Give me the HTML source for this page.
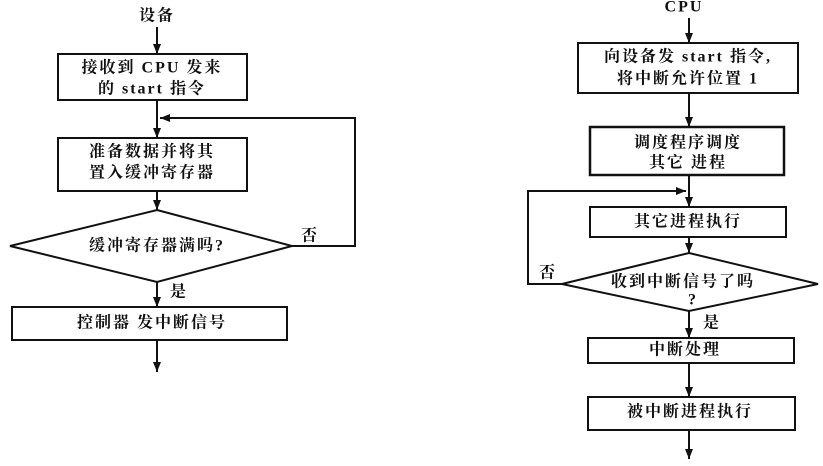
<!DOCTYPE html>
<html><head><meta charset="utf-8"><style>
body{margin:0;background:#fff}
svg text{font-family:"Liberation Serif","Noto Serif CJK SC","Noto Sans CJK SC",serif;font-weight:bold;fill:#111;text-anchor:middle;dominant-baseline:central;letter-spacing:2px}
</style></head><body>
<svg width="823" height="461" viewBox="0 0 823 461" xmlns="http://www.w3.org/2000/svg">
<defs><marker id="a" markerWidth="12" markerHeight="10" refX="10" refY="4" orient="auto" markerUnits="userSpaceOnUse"><path d="M0,0 L10,4 L0,8 Z" fill="#111"/></marker></defs>
<g stroke="#111" stroke-width="2" fill="none">
<!-- left -->
<line x1="157" y1="27" x2="157" y2="54" marker-end="url(#a)"/>
<rect x="58" y="54" width="189" height="46"/>
<line x1="157" y1="100" x2="157" y2="138" marker-end="url(#a)"/>
<rect x="58" y="138" width="189" height="53"/>
<line x1="157" y1="191" x2="157" y2="210" marker-end="url(#a)"/>
<polygon points="157,210 292,246 157,282 10,246"/>
<polyline points="292,246 355,246 355,118 160,118" marker-end="url(#a)"/>
<line x1="157" y1="282" x2="157" y2="307" marker-end="url(#a)"/>
<rect x="12" y="307" width="275" height="33"/>
<line x1="157" y1="340" x2="157" y2="372" marker-end="url(#a)"/>
<!-- right -->
<line x1="689" y1="18" x2="689" y2="43" marker-end="url(#a)"/>
<rect x="578" y="43" width="220" height="50"/>
<line x1="689" y1="93" x2="689" y2="127" marker-end="url(#a)"/>
<rect x="590" y="127" width="194" height="48" stroke-width="2.5"/>
<line x1="689" y1="175" x2="689" y2="207" marker-end="url(#a)"/>
<rect x="590" y="207" width="196" height="30"/>
<line x1="689" y1="237" x2="689" y2="253" marker-end="url(#a)"/>
<polygon points="689,253 818,284 689,311 562,284"/>
<polyline points="562,284 528,284 528,191 686,191" marker-end="url(#a)"/>
<line x1="689" y1="311" x2="689" y2="338" marker-end="url(#a)"/>
<rect x="588" y="338" width="206" height="25"/>
<line x1="689" y1="363" x2="689" y2="397" marker-end="url(#a)"/>
<rect x="588" y="397" width="207" height="33"/>
<line x1="689" y1="430" x2="689" y2="459" marker-end="url(#a)"/>
</g>
<g font-size="16">
<text x="157" y="16">设备</text>
<text x="152" y="68">接收到 CPU 发来</text>
<text x="152" y="89">的 start 指令</text>
<text x="152" y="152">准备数据并将其</text>
<text x="152" y="173">置入缓冲寄存器</text>
<text x="157" y="246">缓冲寄存器满吗?</text>
<text x="310" y="236">否</text>
<text x="179" y="292">是</text>
<text x="152" y="323">控制器 发中断信号</text>
<text x="684" y="7">CPU</text>
<text x="688" y="57">向设备发 start 指令,</text>
<text x="688" y="79">将中断允许位置 1</text>
<text x="688" y="143">调度程序调度</text>
<text x="688" y="163">其它 进程</text>
<text x="688" y="222">其它进程执行</text>
<text x="683" y="282">收到中断信号了吗</text>
<text x="693" y="300">?</text>
<text x="548" y="273">否</text>
<text x="712" y="323">是</text>
<text x="685" y="350">中断处理</text>
<text x="690" y="412">被中断进程执行</text>
</g>
</svg>
</body></html>
